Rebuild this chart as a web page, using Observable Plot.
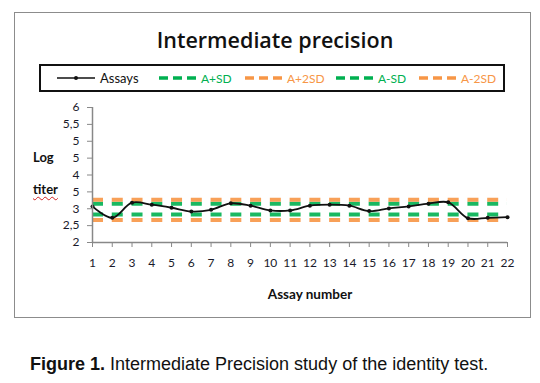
<!DOCTYPE html>
<html><head><meta charset="utf-8">
<script src="https://cdn.jsdelivr.net/npm/d3@7"></script>
<script src="https://cdn.jsdelivr.net/npm/@observablehq/plot@0.6"></script>
<style>
html,body{margin:0;padding:0;background:#fff;}
#wrap{position:relative;width:540px;height:383px;overflow:hidden;font-family:Lato,"Open Sans",sans-serif;}
#frame{position:absolute;left:14px;top:12px;width:515px;height:304px;border:1.5px solid #8c8c8c;}
#title{position:absolute;left:14px;width:522px;top:25px;text-align:center;font-family:"Open Sans",Lato,sans-serif;font-size:21.5px;font-weight:600;color:#111;}
#legend{position:absolute;left:39px;top:64px;width:462px;height:24px;border:2px solid #111;}
.li{position:absolute;top:0;height:24px;display:flex;align-items:center;font-size:12px;}
.li svg{display:block;}
#ylab1,#ylab2{position:absolute;left:33px;font-family:Lato,sans-serif;font-weight:700;font-size:13px;color:#111;}
#ylab2{text-decoration:underline wavy #d02020;text-decoration-thickness:1px;text-underline-offset:2px;}
#plot{position:absolute;left:0;top:95px;}
#xlab{position:absolute;left:220px;width:180px;top:286px;text-align:center;font-family:Lato,sans-serif;font-weight:700;font-size:13.5px;color:#111;}
#caption{position:absolute;left:30px;top:354px;font-family:"Liberation Sans",Arial,sans-serif;font-size:18px;color:#111;white-space:nowrap;}
</style></head>
<body><div id="wrap">
<div id="frame"></div>
<div id="title">Intermediate precision</div>
<div id="legend"></div>
<div id="ylab1" style="top:149px">Log</div>
<div id="ylab2" style="top:181px">titer</div>
<div id="plot"></div>
<div id="xlab">Assay number</div>
<div id="caption"><b>Figure 1.</b> Intermediate Precision study of the identity test.</div>
</div>
<script>
// Data
const assayNumbers = [1,2,3,4,5,6,7,8,9,10,11,12,13,14,15,16,17,18,19,20,21,22];
const logTiter = [3.07,2.73,3.18,3.12,3.03,2.92,2.97,3.16,3.09,2.95,2.95,3.09,3.12,3.09,2.93,3.01,3.07,3.15,3.19,2.72,2.73,2.75];
const limitNames = ["A+SD","A+2SD","A-SD","A-2SD"];
const limitValues = [3.15,3.27,2.83,2.67];
const limitColors = ["#00b050","#f79646","#00b050","#f79646"];
const yTicks = [2,2.5,3,3.5,4,4.5,5,5.5,6];
const yTickLabels = ["2","2,5","3","5","4","5","5","5,5","6"];
const legendLabels = ["Assays","A+SD","A+2SD","A-SD","A-2SD"];

const assays = assayNumbers.map((n,i)=>({n, v: logTiter[i]}));
const limits = limitNames.map((name,i)=>({name, v: limitValues[i], c: limitColors[i]}));

// Legend
const legend = document.getElementById("legend");
const legendPos = [[15,59],[117,162],[203,246],[294,339],[377,421]];
legendLabels.forEach((lab,i)=>{
  const d = document.createElement("div");
  d.className="li";
  d.style.left = legendPos[i][0]+"px";
  const ns="http://www.w3.org/2000/svg";
  const s=document.createElementNS(ns,"svg");
  s.setAttribute("width",40);s.setAttribute("height",10);
  const l=document.createElementNS(ns,"line");
  l.setAttribute("x1",1);l.setAttribute("x2",39);l.setAttribute("y1",5);l.setAttribute("y2",5);
  if(i===0){
    l.setAttribute("stroke","#111");l.setAttribute("stroke-width",1.5);
    s.appendChild(l);
    const c=document.createElementNS(ns,"circle");
    c.setAttribute("cx",20);c.setAttribute("cy",5);c.setAttribute("r",2);c.setAttribute("fill","#111");
    s.appendChild(c);
  } else {
    l.setAttribute("stroke",limitColors[i-1]);l.setAttribute("stroke-width",3.5);
    l.setAttribute("stroke-dasharray","9,5");
    s.appendChild(l);
  }
  d.appendChild(s);
  const t=document.createElement("span");
  t.textContent=lab;
  t.style.marginLeft= i===0 ? "4px" : "3px";
  t.style.color = i===0 ? "#111" : limitColors[i-1];
  t.style.fontSize = i===0 ? "13px" : "12px";
  d.appendChild(t);
  legend.appendChild(d);
});

const chart = Plot.plot({
  width: 540,
  height: 215,
  marginLeft: 92,
  marginRight: 33,
  marginTop: 12,
  marginBottom: 68,
  style: {fontFamily: "Lato, sans-serif", fontSize: "12px", color: "#1a1a2a", background: "transparent"},
  x: {domain: [1,22]},
  y: {domain: [2,6]},
  marks: [
    Plot.ruleY(limits, {y: "v", x1: 1, x2: 22, stroke: "c", strokeWidth: 4, strokeDasharray: "11,8.76", strokeOpacity: 0.9}),
    Plot.line(assays, {x: "n", y: "v", stroke: "#111", strokeWidth: 1.8, curve: "catmull-rom"}),
    Plot.dot(assays, {x: "n", y: "v", r: 2, fill: "#111"}),
    Plot.axisY({ticks: yTicks, tickFormat: (d)=> yTickLabels[yTicks.indexOf(d)], tickSize: 5, tickPadding: 8, label: null, stroke: "#888", strokeOpacity: 1}),
    Plot.axisX({ticks: assayNumbers, tickFormat: d=>String(d), tickSize: 5, tickPadding: 11, label: null, stroke: "#888", strokeOpacity: 1}),
    Plot.ruleX([1], {y1: 2, y2: 6, stroke: "#888", strokeWidth: 1.5}),
    Plot.ruleY([2], {x1: 1, x2: 22, stroke: "#888", strokeWidth: 1.5})
  ]
});
document.getElementById("plot").appendChild(chart);
</script>
</body></html>
